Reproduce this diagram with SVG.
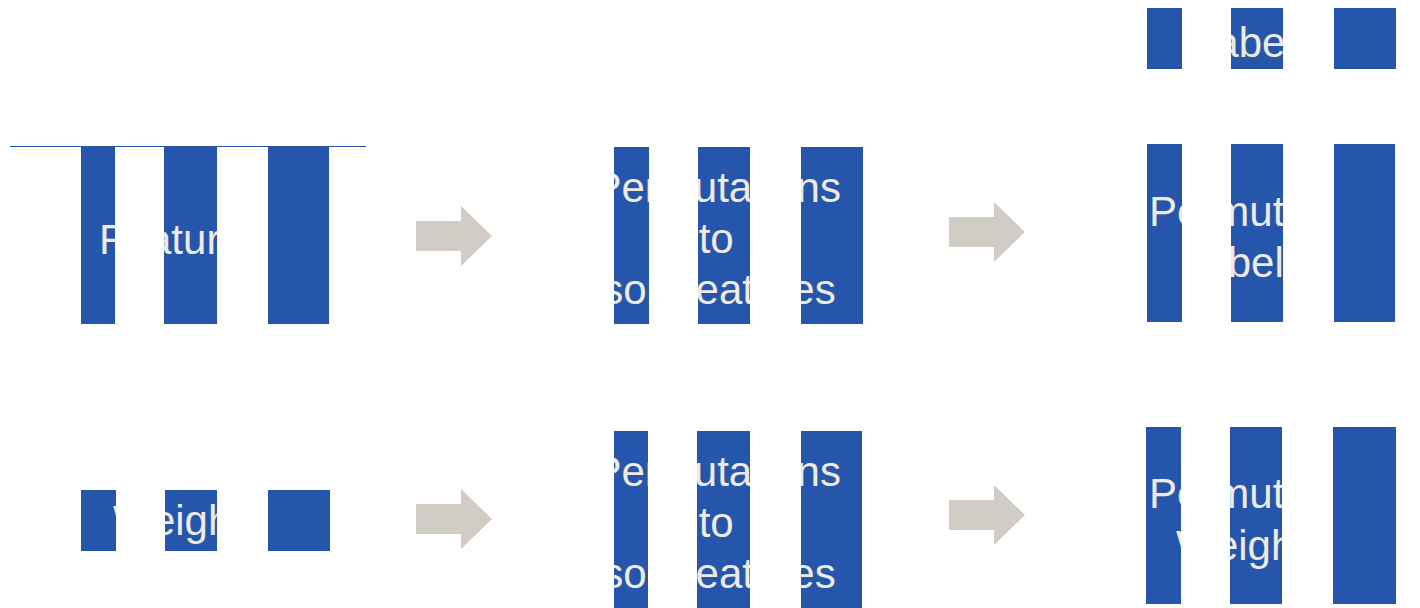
<svg xmlns="http://www.w3.org/2000/svg" xmlns:xlink="http://www.w3.org/1999/xlink" width="1420" height="608" viewBox="0 0 1420 608">
  <style>
    .bar { fill: #2556ac; }
    .label { font-family: "Liberation Sans", Arial, sans-serif; font-size: 42px; fill: #eeeae4; }
    .arrow { fill: #d1ccc5; }
  </style>
  <defs>
    <!-- each node is drawn as three columns; its caption only shows through the columns -->
    <clipPath id="clip-features">
      <rect x="81" y="146" width="34" height="178"/>
      <rect x="164" y="146" width="53" height="178"/>
      <rect x="268" y="146" width="61" height="178"/>
    </clipPath>
    <clipPath id="clip-weights">
      <rect x="81" y="490" width="35" height="61"/>
      <rect x="165" y="490" width="52" height="61"/>
      <rect x="268" y="490" width="62" height="61"/>
    </clipPath>
    <clipPath id="clip-perm-top">
      <rect x="614" y="147" width="35" height="177"/>
      <rect x="698" y="147" width="52" height="177"/>
      <rect x="801" y="147" width="62" height="177"/>
    </clipPath>
    <clipPath id="clip-perm-bottom">
      <rect x="614" y="431" width="34" height="177"/>
      <rect x="697" y="431" width="53" height="177"/>
      <rect x="801" y="431" width="61" height="177"/>
    </clipPath>
    <clipPath id="clip-labels">
      <rect x="1147" y="8" width="35" height="61"/>
      <rect x="1231" y="8" width="52" height="61"/>
      <rect x="1334" y="8" width="62" height="61"/>
    </clipPath>
    <clipPath id="clip-perm-labels">
      <rect x="1147" y="144" width="35" height="178"/>
      <rect x="1231" y="144" width="52" height="178"/>
      <rect x="1334" y="144" width="61" height="178"/>
    </clipPath>
    <clipPath id="clip-perm-weights">
      <rect x="1146" y="427" width="35" height="177"/>
      <rect x="1230" y="427" width="52" height="177"/>
      <rect x="1333" y="427" width="63" height="177"/>
    </clipPath>
    <path id="block-arrow" d="M0,-15 H45 V-30 L76,0 L45,30 V15 H0 Z"/>
  </defs>

  <rect width="1420" height="608" fill="#ffffff"/>

  <g id="node-features">
    <line x1="10" y1="146.5" x2="366" y2="146.5" stroke="#2556ac" stroke-width="1"/>
    <rect class="bar" x="81" y="146" width="34" height="178"/>
    <rect class="bar" x="164" y="146" width="53" height="178"/>
    <rect class="bar" x="268" y="146" width="61" height="178"/>
    <text class="label" clip-path="url(#clip-features)" x="99" y="254">Features</text>
  </g>

  <g id="node-weights">
    <rect class="bar" x="81" y="490" width="35" height="61"/>
    <rect class="bar" x="165" y="490" width="52" height="61"/>
    <rect class="bar" x="268" y="490" width="62" height="61"/>
    <text class="label" clip-path="url(#clip-weights)" x="113" y="535">Weights</text>
  </g>

  <g id="node-permutations-top">
    <rect class="bar" x="614" y="147" width="35" height="177"/>
    <rect class="bar" x="698" y="147" width="52" height="177"/>
    <rect class="bar" x="801" y="147" width="62" height="177"/>
    <text class="label" clip-path="url(#clip-perm-top)" text-anchor="middle">
      <tspan x="723" y="202">Permutations</tspan>
      <tspan x="722" y="253">to</tspan>
      <tspan x="719" y="304">sort features</tspan>
    </text>
  </g>

  <g id="node-permutations-bottom">
    <rect class="bar" x="614" y="431" width="34" height="177"/>
    <rect class="bar" x="697" y="431" width="53" height="177"/>
    <rect class="bar" x="801" y="431" width="61" height="177"/>
    <text class="label" clip-path="url(#clip-perm-bottom)" text-anchor="middle">
      <tspan x="723" y="486">Permutations</tspan>
      <tspan x="722" y="537">to</tspan>
      <tspan x="719" y="588">sort features</tspan>
    </text>
  </g>

  <g id="node-labels">
    <rect class="bar" x="1147" y="8" width="35" height="61"/>
    <rect class="bar" x="1231" y="8" width="52" height="61"/>
    <rect class="bar" x="1334" y="8" width="62" height="61"/>
    <text class="label" clip-path="url(#clip-labels)" x="1192" y="57">Labels</text>
  </g>

  <g id="node-permuted-labels">
    <rect class="bar" x="1147" y="144" width="35" height="178"/>
    <rect class="bar" x="1231" y="144" width="52" height="178"/>
    <rect class="bar" x="1334" y="144" width="61" height="178"/>
    <text class="label" clip-path="url(#clip-perm-labels)">
      <tspan x="1149" y="226">Permuted</tspan>
      <tspan x="1181" y="277">Labels</tspan>
    </text>
  </g>

  <g id="node-permuted-weights">
    <rect class="bar" x="1146" y="427" width="35" height="177"/>
    <rect class="bar" x="1230" y="427" width="52" height="177"/>
    <rect class="bar" x="1333" y="427" width="63" height="177"/>
    <text class="label" clip-path="url(#clip-perm-weights)">
      <tspan x="1149" y="508">Permuted</tspan>
      <tspan x="1176" y="560">Weights</tspan>
    </text>
  </g>

  <g id="connectors">
    <use xlink:href="#block-arrow" class="arrow" transform="translate(416,236)"/>
    <use xlink:href="#block-arrow" class="arrow" transform="translate(416,519)"/>
    <use xlink:href="#block-arrow" class="arrow" transform="translate(949,232)"/>
    <use xlink:href="#block-arrow" class="arrow" transform="translate(949,515)"/>
  </g>
</svg>
